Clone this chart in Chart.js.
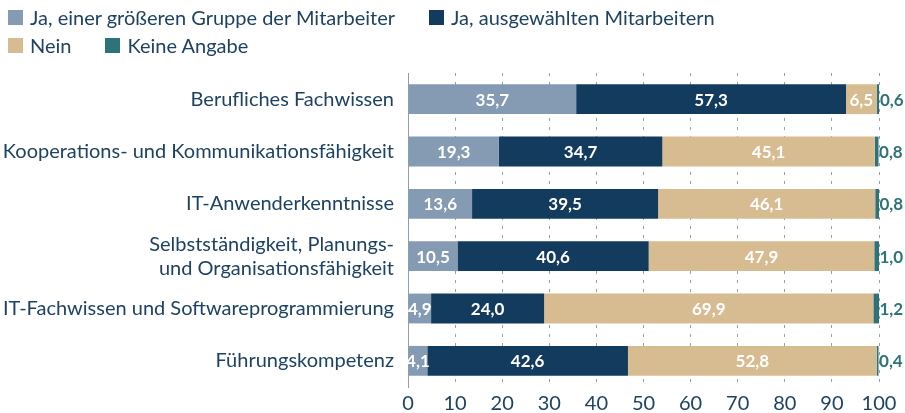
<!DOCTYPE html>
<html>
<head>
<meta charset="utf-8">
<script src="https://cdn.jsdelivr.net/npm/chart.js@4/dist/chart.umd.min.js"></script>
<style>
  html, body { margin: 0; padding: 0; background: #ffffff; }
  #wrap { position: relative; width: 905px; height: 413px; overflow: hidden; }
  #legend { position: absolute; left: 8px; top: 3px; width: 800px; display: flex; flex-wrap: wrap; column-gap: 34px; row-gap: 0; font-family: Lato, sans-serif; font-size: 20px; color: #1d4263; }
  .li { display: flex; align-items: center; height: 28px; white-space: nowrap; }
  .bx { width: 15px; height: 15px; margin-right: 7px; display: inline-block; }
  canvas { position: absolute; left: 0; top: 0; }
</style>
</head>
<body>
<div id="wrap">
  <canvas id="c" width="905" height="413"></canvas>
  <div id="legend"></div>
</div>
<script>
const categories = [
  'Berufliches Fachwissen',
  'Kooperations- und Kommunikationsfähigkeit',
  'IT-Anwenderkenntnisse',
  ['Selbstständigkeit, Planungs-', 'und Organisationsfähigkeit'],
  'IT-Fachwissen und Softwareprogrammierung',
  'Führungskompetenz'
];
const seriesNames = ['Ja, einer größeren Gruppe der Mitarbeiter', 'Ja, ausgewählten Mitarbeitern', 'Nein', 'Keine Angabe'];
const groupValues    = [35.7, 19.3, 13.6, 10.5, 4.9, 4.1];
const selectedValues = [57.3, 34.7, 39.5, 40.6, 24.0, 42.6];
const noValues       = [6.5, 45.1, 46.1, 47.9, 69.9, 52.8];
const naValues       = [0.6, 0.8, 0.8, 1.0, 1.2, 0.4];
const xTicks = [0, 10, 20, 30, 40, 50, 60, 70, 80, 90, 100];

const colors = ['#849bb3', '#123b5d', '#d8bc91', '#2e7378'];
const textColor = '#1d4263';
const FONT = 'Lato, sans-serif';

const fmt = v => v.toFixed(1).replace('.', ',');

const labelPlugin = {
  id: 'segLabels',
  afterDatasetsDraw(chart) {
    const ctx = chart.ctx;
    ctx.save();
    ctx.font = 'bold 17px ' + FONT;
    ctx.textBaseline = 'middle';
    chart.data.datasets.forEach((ds, di) => {
      const meta = chart.getDatasetMeta(di);
      meta.data.forEach((bar, i) => {
        const v = ds.data[i];
        if (di === 3) {
          ctx.fillStyle = colors[3];
          ctx.textAlign = 'left';
          ctx.fillText(fmt(v), bar.x + 0.5, bar.y + 1);
        } else {
          ctx.fillStyle = '#ffffff';
          ctx.textAlign = 'center';
          ctx.fillText(fmt(v), (bar.x + bar.base) / 2, bar.y + 1);
        }
      });
    });
    ctx.restore();
  }
};

const datasets = [groupValues, selectedValues, noValues, naValues].map((d, i) => ({
  label: seriesNames[i],
  data: d,
  backgroundColor: colors[i],
  borderWidth: 0,
  barPercentage: 0.57,
  categoryPercentage: 1.0
}));

const chart = new Chart(document.getElementById('c'), {
  type: 'bar',
  data: { labels: categories, datasets },
  options: {
    indexAxis: 'y',
    responsive: false,
    animation: false,
    devicePixelRatio: 1,
    layout: { padding: { top: 73, right: 26, left: 0, bottom: 0 } },
    plugins: { legend: { display: false }, tooltip: { enabled: false } },
    scales: {
      x: {
        stacked: true,
        min: 0, max: 100,
        afterBuildTicks: s => { s.ticks = xTicks.map(v => ({ value: v })); },
        afterFit: s => { s.height = 26; },
        grid: { color: '#8e9fb3', lineWidth: 1, drawTicks: false },
        border: { display: false, dash: [3, 6] },
        ticks: { color: textColor, font: { family: FONT, size: 20 }, padding: 5, maxRotation: 0 }
      },
      y: {
        stacked: true,
        afterFit: s => { s.width = 408; },
        grid: { color: 'rgba(0,0,0,0)', drawTicks: false },
        border: { display: true, color: '#8e9fb3', width: 1 },
        ticks: { color: textColor, font: { family: FONT, size: 20 }, padding: 14 }
      }
    }
  },
  plugins: [labelPlugin]
});

const legend = document.getElementById('legend');
chart.data.datasets.forEach(ds => {
  const it = document.createElement('div');
  it.className = 'li';
  const b = document.createElement('span');
  b.className = 'bx';
  b.style.background = ds.backgroundColor;
  it.appendChild(b);
  it.appendChild(document.createTextNode(ds.label));
  legend.appendChild(it);
});
</script>
</body>
</html>
